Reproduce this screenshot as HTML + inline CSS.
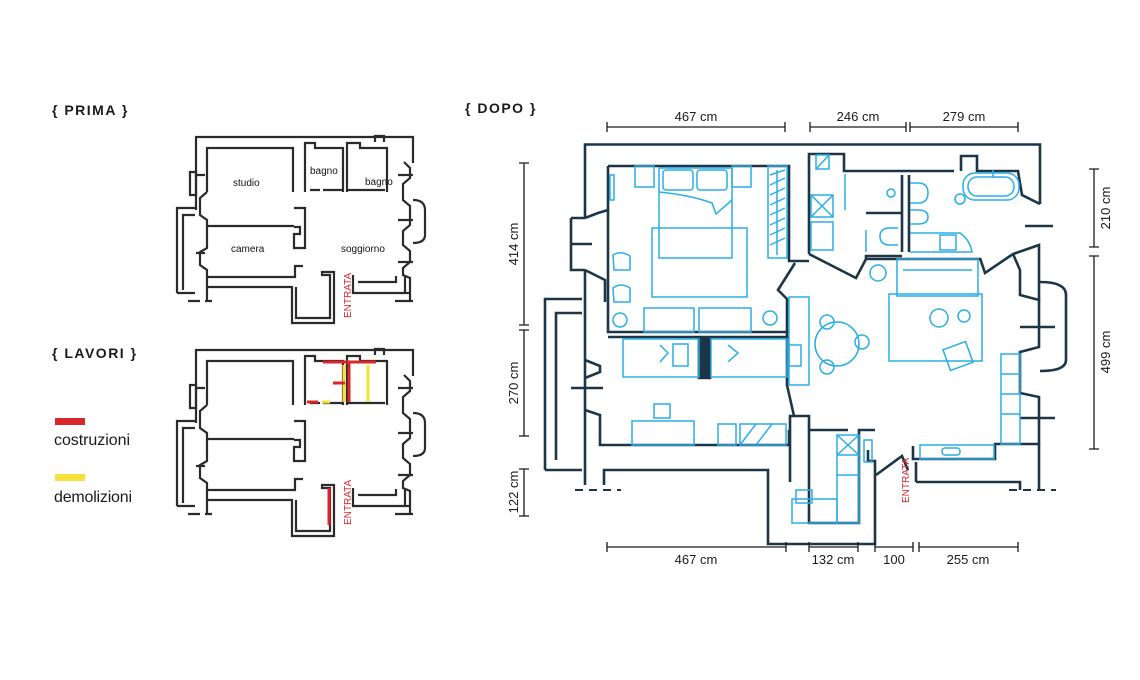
<!DOCTYPE html>
<html><head><meta charset="utf-8"><style>
html,body{margin:0;padding:0;background:#fff;}
svg{display:block;}
text{font-family:"Liberation Sans",sans-serif;}
</style></head><body>
<svg width="1140" height="680" viewBox="0 0 1140 680" xmlns="http://www.w3.org/2000/svg">
<rect width="1140" height="680" fill="#fff"/>

<!-- headings -->
<text x="52" y="115" font-size="14" font-weight="bold" fill="#1a1a1a" letter-spacing="1.5">{ PRIMA }</text>
<text x="52" y="358" font-size="14" font-weight="bold" fill="#1a1a1a" letter-spacing="1.5">{ LAVORI }</text>
<text x="465" y="113" font-size="14" font-weight="bold" fill="#1a1a1a" letter-spacing="1.5">{ DOPO }</text>

<!-- legend -->
<rect x="55" y="418" width="30" height="7" fill="#d8262b"/>
<text x="54" y="445" font-size="16" fill="#1a1a1a" textLength="76">costruzioni</text>
<rect x="55" y="474" width="30" height="7" fill="#f4e23a"/>
<text x="54" y="502" font-size="16" fill="#1a1a1a" textLength="78">demolizioni</text>

<!-- PRIMA plan -->
<defs>
<g id="oldplan" fill="none" stroke="#2b2b2b" stroke-width="2.2">
  <path d="M196 210 V137 H413 V163"/>
  <path d="M207 192 V148 H293 V192"/>
  <path d="M305 192 V143 H315 V148 H343 V192"/>
  <path d="M347 192 V143 H360 V148 H387 V192"/>
  <path d="M375 142 V136 H384 V142"/>
  <path d="M310 190 H320 M323 190 H343 M348 190 H385"/>
  <path d="M404 162 L410 168 V178 L403 184 V200 L410 206 V225 L403 231 V245 L410 251 V262 L403 268 V275 L410 278 V300"/>
  <path d="M413 200 Q425 200 425 210 V235 Q425 243 413 243"/>
  <path d="M398 175 H413 M398 220 H413 M398 262 H413"/>
  <path d="M207 192 L200 198 V215 L207 220 V248 L200 252 V265 L207 270 V300"/>
  <path d="M196 175 H205 M196 253 H205" />
  <path d="M190 172 H196 V195 H190 Z"/>
  <path d="M177 293 V208 H195 M183 290 V215 H195 M177 293 H195"/>
  <path d="M207 226 H294"/>
  <path d="M294 208 H305 V248 H294 V234 H300 V227 H294"/>
  <path d="M207 277 H295 V266 H303"/>
  <path d="M207 287 H292 V323 H334 V272 H322 V275 H330 V318 H296 V287"/>
  <path d="M353 275 V293 H410 M358 282 H396 V276 M405 276 V293"/>
  <path d="M188 301 H200 M205 301 H212 M395 301 H413"/>
</g>
</defs>
<use href="#oldplan"/>
<g font-size="10" fill="#111">
<text x="233" y="186">studio</text>
<text x="310" y="174">bagno</text>
<text x="365" y="185">bagno</text>
<text x="231" y="252">camera</text>
<text x="341" y="252">soggiorno</text>
</g>
<text x="0" y="0" font-size="10" fill="#d8262b" transform="translate(351,318) rotate(-90)">ENTRATA</text>

<!-- LAVORI plan -->
<g transform="translate(0,213)"><use href="#oldplan"/></g>
<g stroke-width="3" fill="none">
  <path d="M323 362 H376" stroke="#d8262b"/>
  <path d="M349 362 V402" stroke="#d8262b"/>
  <path d="M344 365 V402" stroke="#f4e23a"/>
  <path d="M368 365 V402" stroke="#f4e23a"/>
  <path d="M333 383 H345" stroke="#d8262b"/>
  <path d="M307 402 H318" stroke="#d8262b"/>
  <path d="M322 402 H330" stroke="#f4e23a"/>
  <path d="M329 488 V525" stroke="#d8262b"/>
</g>
<text x="0" y="0" font-size="10" fill="#d8262b" transform="translate(351,525) rotate(-90)">ENTRATA</text>

<!-- DOPO plan: walls -->
<g fill="none" stroke="#1c3547" stroke-width="2.6">
  <path d="M585 218 V144.5 H1040 V204"/>
  <path d="M571 218 H585 M571 218 V270 H585 M571 244 H592"/>
  <path d="M585 270 L605 280 V302 M608 166 H789 V261 H809"/>
  <path d="M608 166 V210 L598 213 L585 218"/>
  <path d="M608 210 V332 H789 M608 337 H789"/>
  <path d="M585 270 V470 M585 360 L600 366 V372 L585 378"/>
  <path d="M585 410 L600 415 V445 H789"/>
  <path d="M571 388 H603"/>
  <path d="M545 470 V299 H582 M556 460 V313 H582 M545 470 H582"/>
  <path d="M585 470 V485 M604 485 V470 H768 V544 H875 V461 H868 V450 M790 482 V416 L794 416 M789 430 V445"/>
  <path d="M809 482 V430 H848 M809 482 V523 H859 V430 H875"/>
  <path d="M795 263 L778 290 L787 299 V385 L794 416 H809 V430"/>
  <path d="M809 254 V154 H844 V171 H954 M809 254 L856 278 L866 259 H980"/>
  <path d="M961 171 V156 H977 V171 H1018 L1022 195 L1040 204"/>
  <path d="M902 175 V252 M909 175 V252 M866 213 H902 M866 259 V256 H902"/>
  <path d="M980 258 L985 273 L1013 254 M1013 254 L1039 245 V300 L1020 295 V270 L1013 254"/>
  <path d="M1039 300 V347 L1020 352 V393 L1039 397 V444 H995 V459 H913 V446"/>
  <path d="M1040 282 Q1066 282 1066 295 V360 Q1066 371 1040 371"/>
  <path d="M1025 226 H1053 M1020 327 H1055 M1020 418 H1055"/>
  <path d="M916 482 V462 M916 482 H1020 V490 M1039 444 V490"/>
  <path d="M876 475 L902 456 L908 470"/>
  <path d="M762 263 V330" stroke-width="0"/>
  <path d="M699 337 V378 H710 V337" fill="#1c3547"/>
</g>
<g stroke="#1c3547" stroke-width="2" stroke-dasharray="8,6" fill="none">
  <path d="M575 490 H621 M1009 490 H1056"/>
</g>

<!-- DOPO furniture (blue) -->
<g fill="none" stroke="#29aee6" stroke-width="1.5">
  <rect x="659" y="168" width="73" height="90"/>
  <rect x="663" y="170" width="30" height="20" rx="3"/>
  <rect x="697" y="170" width="30" height="20" rx="3"/>
  <path d="M659 192 Q690 195 712 203 L716 214 L732 200"/>
  <rect x="652" y="228" width="95" height="69"/>
  <rect x="635" y="166" width="19" height="21"/>
  <rect x="732" y="166" width="19" height="21"/>
  <rect x="768" y="166" width="19" height="92"/>
  <path d="M770 175 L785 170 M770 185 L785 178 M770 195 L785 188 M770 205 L785 198 M770 215 L785 208 M770 225 L785 218 M770 235 L785 228 M770 245 L785 238 M777 170 V255"/>
  <path d="M613 255 Q621 250 630 256 V270 H614 Z"/>
  <path d="M613 288 Q621 282 630 288 V302 H614 Z"/>
  <rect x="610" y="175" width="4" height="25"/>
  <circle cx="620" cy="320" r="7"/>
  <circle cx="770" cy="318" r="7"/>
  <rect x="644" y="308" width="50" height="24"/>
  <rect x="699" y="308" width="52" height="24"/>
  <rect x="623" y="339" width="76" height="38"/>
  <rect x="711" y="339" width="76" height="38"/>
  <rect x="673" y="344" width="15" height="22"/>
  <path d="M660 345 L668 353 L660 362"/>
  <path d="M728 345 L738 353 L728 362"/>
  <rect x="789" y="345" width="12" height="21"/>
  <rect x="789" y="297" width="20" height="88"/>
  <rect x="632" y="421" width="62" height="24"/>
  <rect x="654" y="404" width="16" height="14"/>
  <rect x="718" y="424" width="18" height="21"/>
  <rect x="740" y="424" width="46" height="21"/>
  <path d="M740 445 L756 424 M756 445 L772 424"/>
  <circle cx="837" cy="344" r="22"/>
  <circle cx="827" cy="322" r="7"/>
  <circle cx="862" cy="342" r="7"/>
  <circle cx="827" cy="367" r="7"/>
  <circle cx="878" cy="273" r="8"/>
  <rect x="889" y="294" width="93" height="67"/>
  <rect x="897" y="259" width="81" height="37"/>
  <path d="M903 270 H972"/>
  <circle cx="939" cy="318" r="9"/>
  <circle cx="964" cy="316" r="6"/>
  <g transform="rotate(-20 958 356)"><rect x="946" y="345" width="24" height="22"/></g>
  <rect x="1001" y="354" width="19" height="90"/>
  <path d="M1001 374 H1020 M1001 394 H1020 M1001 414 H1020"/>
  <rect x="811" y="195" width="22" height="22"/>
  <path d="M811 195 L833 217 M833 195 L811 217"/>
  <rect x="811" y="222" width="22" height="28"/>
  <rect x="816" y="155" width="13" height="14"/>
  <path d="M816 169 L829 155"/>
  <rect x="963" y="173" width="56" height="27" rx="12"/>
  <rect x="968" y="177" width="46" height="19" rx="9"/>
  <path d="M993 170 V178"/>
  <circle cx="960" cy="199" r="5"/>
  <path d="M910 183 H918 Q928 183 928 193 Q928 203 918 203 H910"/>
  <path d="M910 210 H918 Q928 210 928 217 Q928 224 918 224 H910"/>
  <path d="M898 228 H890 Q880 228 880 236 Q880 245 890 245 H898"/>
  <circle cx="891" cy="193" r="4"/>
  <path d="M845 174 V210 M866 230 V252"/>
  <path d="M910 233 H960 Q970 240 972 252 H910"/>
  <rect x="940" y="235" width="16" height="15"/>
  <rect x="837" y="435" width="22" height="88"/>
  <path d="M837 435 L859 455 M859 435 L837 455 M837 455 H859 M837 475 H859"/>
  <rect x="792" y="499" width="45" height="24"/>
  <rect x="796" y="490" width="16" height="13"/>
  <rect x="920" y="445" width="74" height="14"/>
  <rect x="942" y="448" width="18" height="7" rx="3"/>
  <rect x="864" y="440" width="8" height="22"/>
</g>
<text x="0" y="0" font-size="10" fill="#d8262b" transform="translate(909,503) rotate(-90)">ENTRATA</text>

<!-- dimensions -->
<g stroke="#1a1a1a" stroke-width="1.3" fill="none">
  <path d="M607 127 H785 M607 122 V132 M785 122 V132"/>
  <path d="M810 127 H906 M810 122 V132 M906 122 V132"/>
  <path d="M910 127 H1018 M910 122 V132 M1018 122 V132"/>
  <path d="M607 547 H786 M607 542 V552 M786 542 V552"/>
  <path d="M809 547 H858 M809 542 V552 M858 542 V552"/>
  <path d="M875 547 H913 M875 542 V552 M913 542 V552"/>
  <path d="M919 547 H1018 M919 542 V552 M1018 542 V552"/>
  <path d="M524 163 V325 M519 163 H529 M519 325 H529"/>
  <path d="M524 330 V436 M519 330 H529 M519 436 H529"/>
  <path d="M524 469 V516 M519 469 H529 M519 516 H529"/>
  <path d="M1094 169 V247 M1089 169 H1099 M1089 247 H1099"/>
  <path d="M1094 256 V449 M1089 256 H1099 M1089 449 H1099"/>
</g>
<g font-size="13" fill="#1a1a1a" text-anchor="middle">
  <text x="696" y="121">467 cm</text>
  <text x="858" y="121">246 cm</text>
  <text x="964" y="121">279 cm</text>
  <text x="696" y="564">467 cm</text>
  <text x="833" y="564">132 cm</text>
  <text x="894" y="564">100</text>
  <text x="968" y="564">255 cm</text>
  <text transform="translate(518,244) rotate(-90)">414 cm</text>
  <text transform="translate(518,383) rotate(-90)">270 cm</text>
  <text transform="translate(518,492) rotate(-90)">122 cm</text>
  <text transform="translate(1110,208) rotate(-90)">210 cm</text>
  <text transform="translate(1110,352) rotate(-90)">499 cm</text>
</g>
</svg>
</body></html>
